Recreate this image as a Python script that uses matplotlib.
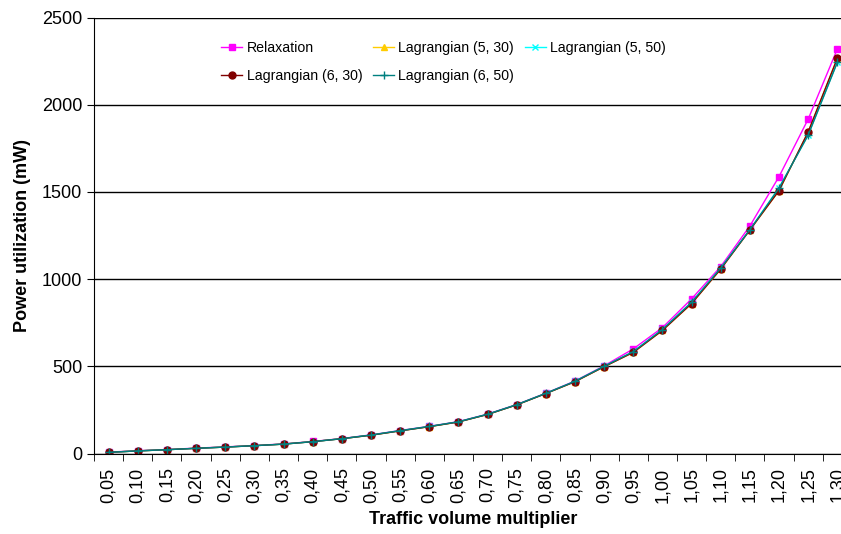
import numpy as np
import matplotlib
matplotlib.use('Agg')
import matplotlib.pyplot as plt

plt.rcParams['font.family'] = ['Liberation Sans', 'DejaVu Sans']

# traffic multipliers shown on the category axis
multipliers = ['0,05', '0,10', '0,15', '0,20', '0,25', '0,30', '0,35', '0,40', '0,45',
               '0,50', '0,55', '0,60', '0,65', '0,70', '0,75', '0,80', '0,85', '0,90',
               '0,95', '1,00', '1,05', '1,10', '1,15', '1,20', '1,25', '1,30']

relaxation = [8, 16, 23, 31, 38, 46, 55, 69, 86, 107, 132, 156, 183, 226, 281, 346, 416, 503,
              600, 722, 887, 1072, 1305, 1588, 1918, 2320]
lag_5_30 = [7, 15, 22, 30, 37, 45, 54, 68, 85, 105, 130, 154, 181, 224, 279, 344, 412, 498,
            580, 706, 860, 1058, 1282, 1508, 1843, 2265]
lag_5_50 = [7, 15, 22, 30, 37, 45, 54, 68, 85, 106, 131, 155, 182, 225, 280, 345, 414, 500,
            585, 712, 868, 1064, 1284, 1524, 1828, 2245]
lag_6_30 = [7, 15, 22, 30, 37, 45, 54, 68, 85, 105, 130, 154, 181, 224, 279, 344, 412, 498,
            580, 706, 860, 1058, 1282, 1508, 1845, 2267]
lag_6_50 = [7, 15, 22, 30, 37, 45, 54, 68, 85, 106, 131, 155, 182, 225, 280, 345, 414, 500,
            584, 711, 867, 1063, 1283, 1522, 1826, 2243]

fig = plt.figure(figsize=(8.41, 5.34), dpi=100)
ax = fig.add_axes([0.1118, 0.1507, 0.9012, 0.8165])

x = np.arange(len(multipliers))
h_rel, = ax.plot(x, relaxation, color='#FF00FF', marker='s', markersize=5, lw=1, label='Relaxation')
h_530, = ax.plot(x, lag_5_30, color='#FFCC00', marker='^', markersize=5, lw=1, label='Lagrangian (5, 30)')
h_550, = ax.plot(x, lag_5_50, color='#00FFFF', marker='x', markersize=5, lw=1, label='Lagrangian (5, 50)')
h_630, = ax.plot(x, lag_6_30, color='#800000', marker='o', markersize=5, lw=1, label='Lagrangian (6, 30)')
h_650, = ax.plot(x, lag_6_50, color='#008080', marker='+', markersize=6, lw=1, label='Lagrangian (6, 50)')

ax.set_xlim(-0.5, len(multipliers) - 0.5)
ax.set_ylim(0, 2500)
ax.set_yticks([0, 500, 1000, 1500, 2000, 2500])
ax.yaxis.grid(True, color='black', lw=1)
ax.set_axisbelow(True)

ax.set_xticks(x)
ax.set_xticklabels(multipliers, rotation=90, fontsize=13)
ax.set_xticks(np.arange(len(multipliers) + 1) - 0.5, minor=True)
ax.tick_params(axis='x', which='major', length=0, pad=10)
ax.tick_params(axis='x', which='minor', length=5, direction='out')
ax.tick_params(axis='y', length=5, direction='out', labelsize=13)

for s in ['top', 'right']:
    ax.spines[s].set_visible(False)

ax.set_xlabel('Traffic volume multiplier', fontsize=13, fontweight='bold', labelpad=6)
ax.set_ylabel('Power utilization (mW)', fontsize=13, fontweight='bold', labelpad=8)

# row-wise order like the original legend
handles = [h_rel, h_630, h_530, h_650, h_550]
ax.legend(handles=handles, loc='upper left', bbox_to_anchor=(0.151, 0.976), ncol=3,
          frameon=False, fontsize=10.2, handlelength=1.5, columnspacing=0.75,
          handletextpad=0.3, labelspacing=1.0)

fig.savefig('out.png', dpi=100)
